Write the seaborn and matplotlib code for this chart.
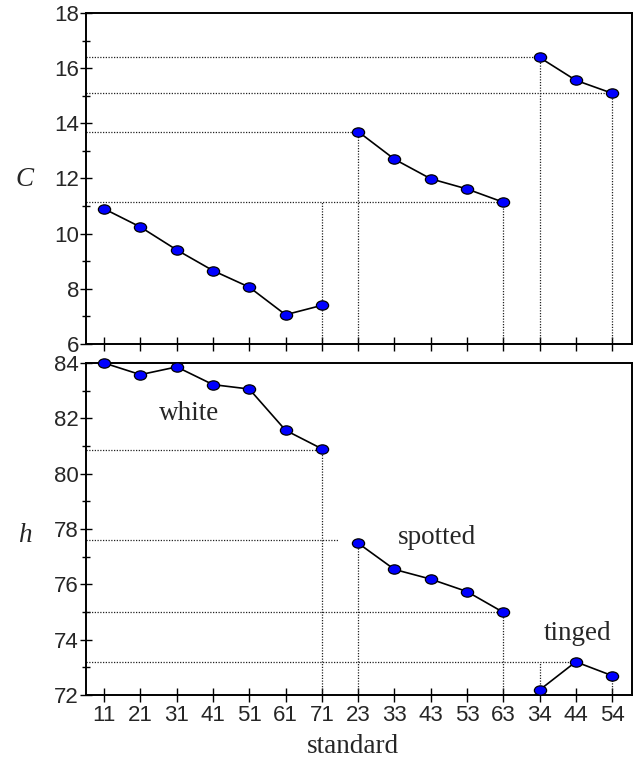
import numpy as np
import pandas as pd
import matplotlib
matplotlib.use("Agg")
import matplotlib.pyplot as plt
from matplotlib.path import Path
from matplotlib.transforms import Affine2D
from matplotlib.ticker import MultipleLocator
import seaborn as sns

# Standard codes along the x axis, grouped by appearance
white_labels = ["11", "21", "31", "41", "51", "61", "71"]
spotted_labels = ["23", "33", "43", "53", "63"]
tinged_labels = ["34", "44", "54"]
tick_labels = white_labels + spotted_labels + tinged_labels

# Chroma C per standard
C_white = [10.90, 10.24, 9.41, 8.66, 8.06, 7.06, 7.40]
C_spotted = [13.70, 12.70, 11.99, 11.62, 11.14]
C_tinged = [16.39, 15.56, 15.09]

# Hue angle h per standard
h_white = [84.00, 83.58, 83.86, 83.22, 83.06, 81.57, 80.90]
h_spotted = [77.49, 76.54, 76.19, 75.74, 74.99]
h_tinged = [72.18, 73.20, 72.70]

group_names = ["white", "spotted", "tinged"]
group_sizes = [len(white_labels), len(spotted_labels), len(tinged_labels)]

sns.set_theme(style="white")
plt.rcParams["font.family"] = ["Liberation Sans", "DejaVu Sans"]

rows = []
pos = 0
for name, n, cv, hv in zip(group_names, group_sizes,
                            [C_white, C_spotted, C_tinged],
                            [h_white, h_spotted, h_tinged]):
    for i in range(n):
        rows.append({"group": name, "x": pos, "C": cv[i], "h": hv[i]})
        pos += 1
df = pd.DataFrame(rows)

# Slightly flattened ellipse marker
ellipse = Path(Affine2D().scale(1.0, 0.76).transform(Path.unit_circle().vertices),
               Path.unit_circle().codes)

fig = plt.figure(figsize=(6.41, 7.59), dpi=100)
ax_c = fig.add_axes([0.1342, 0.5468, 0.986 - 0.1342, 0.9829 - 0.5468])
ax_h = fig.add_axes([0.1342, 0.0843, 0.986 - 0.1342, 0.5217 - 0.0843])

dot = dict(color="#222222", lw=0.9, ls=(0, (1, 1.2)), zorder=1)
xmin = -0.5


def hguide(ax, y, x_end):
    ax.plot([xmin, x_end], [y, y], **dot)


def vguide(ax, x, y_low, y_high):
    ax.plot([x, x], [y_low, y_high], **dot)


# Guide lines for chroma panel
hguide(ax_c, C_tinged[0], 12)
hguide(ax_c, C_tinged[2], 14)
hguide(ax_c, C_spotted[0], 7)
hguide(ax_c, C_spotted[4], 11)
vguide(ax_c, 6, 6, C_spotted[4])
vguide(ax_c, 7, 6, C_spotted[0])
vguide(ax_c, 11, 6, C_spotted[4])
vguide(ax_c, 12, 6, C_tinged[0])
vguide(ax_c, 14, 6, C_tinged[2])

# Guide lines for hue panel
hguide(ax_h, 80.86, 6)
hguide(ax_h, 77.60, 6.45)
hguide(ax_h, h_spotted[4], 11)
hguide(ax_h, h_tinged[1], 13)
vguide(ax_h, 6, 72, 80.86)
vguide(ax_h, 7, 72, h_spotted[0])
vguide(ax_h, 11, 72, h_spotted[4])
vguide(ax_h, 12, 72, h_tinged[1])
vguide(ax_h, 14, 72, h_tinged[2])

for ax, col in [(ax_c, "C"), (ax_h, "h")]:
    for name in group_names:
        sub = df[df["group"] == name]
        sns.lineplot(data=sub, x="x", y=col, ax=ax, color="black", lw=1.2,
                     marker=ellipse, ms=8.8, mfc="#0000ff", mec="black",
                     mew=0.9, clip_on=False, zorder=3, sort=False)

for ax, lo, hi in [(ax_c, 6, 18), (ax_h, 72, 84)]:
    ax.set_xlim(xmin, 14.55)
    ax.set_ylim(lo, hi)
    ax.set_xticks(range(len(tick_labels)))
    ax.yaxis.set_major_locator(MultipleLocator(2))
    ax.yaxis.set_minor_locator(MultipleLocator(1))
    ax.tick_params(axis="x", which="major", direction="inout", length=10,
                   width=1.0, color="black", bottom=True, labelsize=16, pad=2)
    ax.tick_params(axis="y", which="major", direction="inout", length=8,
                   width=1.0, color="black", left=True, labelsize=16, pad=1)
    ax.tick_params(axis="y", which="minor", direction="inout", length=6,
                   width=1.0, color="black", left=True)
    for s in ax.spines.values():
        s.set_visible(True)
        s.set_color("black")
        s.set_linewidth(1.4)
    ax.set_xlabel("")
    ax.set_ylabel("")
    ax.grid(False)

ax_c.set_xticklabels([])
ax_h.set_xticklabels(tick_labels)

serif = ["Liberation Serif", "DejaVu Serif"]
ax_h.set_xlabel("standard", family=serif, fontsize=19.5)
ax_h.xaxis.set_label_coords(0.488, -0.118)
fig.text(0.039, 0.763, "C", family=serif, style="italic", fontsize=19.5,
         ha="center", va="center")
fig.text(0.039, 0.295, "h", family=serif, style="italic", fontsize=19.5,
         ha="center", va="center")

ax_h.text(2.34, 82.19, "white", family=serif, fontsize=19.5, ha="center", va="center")
ax_h.text(9.17, 77.71, "spotted", family=serif, fontsize=19.5, ha="center", va="center")
ax_h.text(13.06, 74.24, "tinged", family=serif, fontsize=19.5, ha="center", va="center")

fig.savefig("out.png", dpi=100)
